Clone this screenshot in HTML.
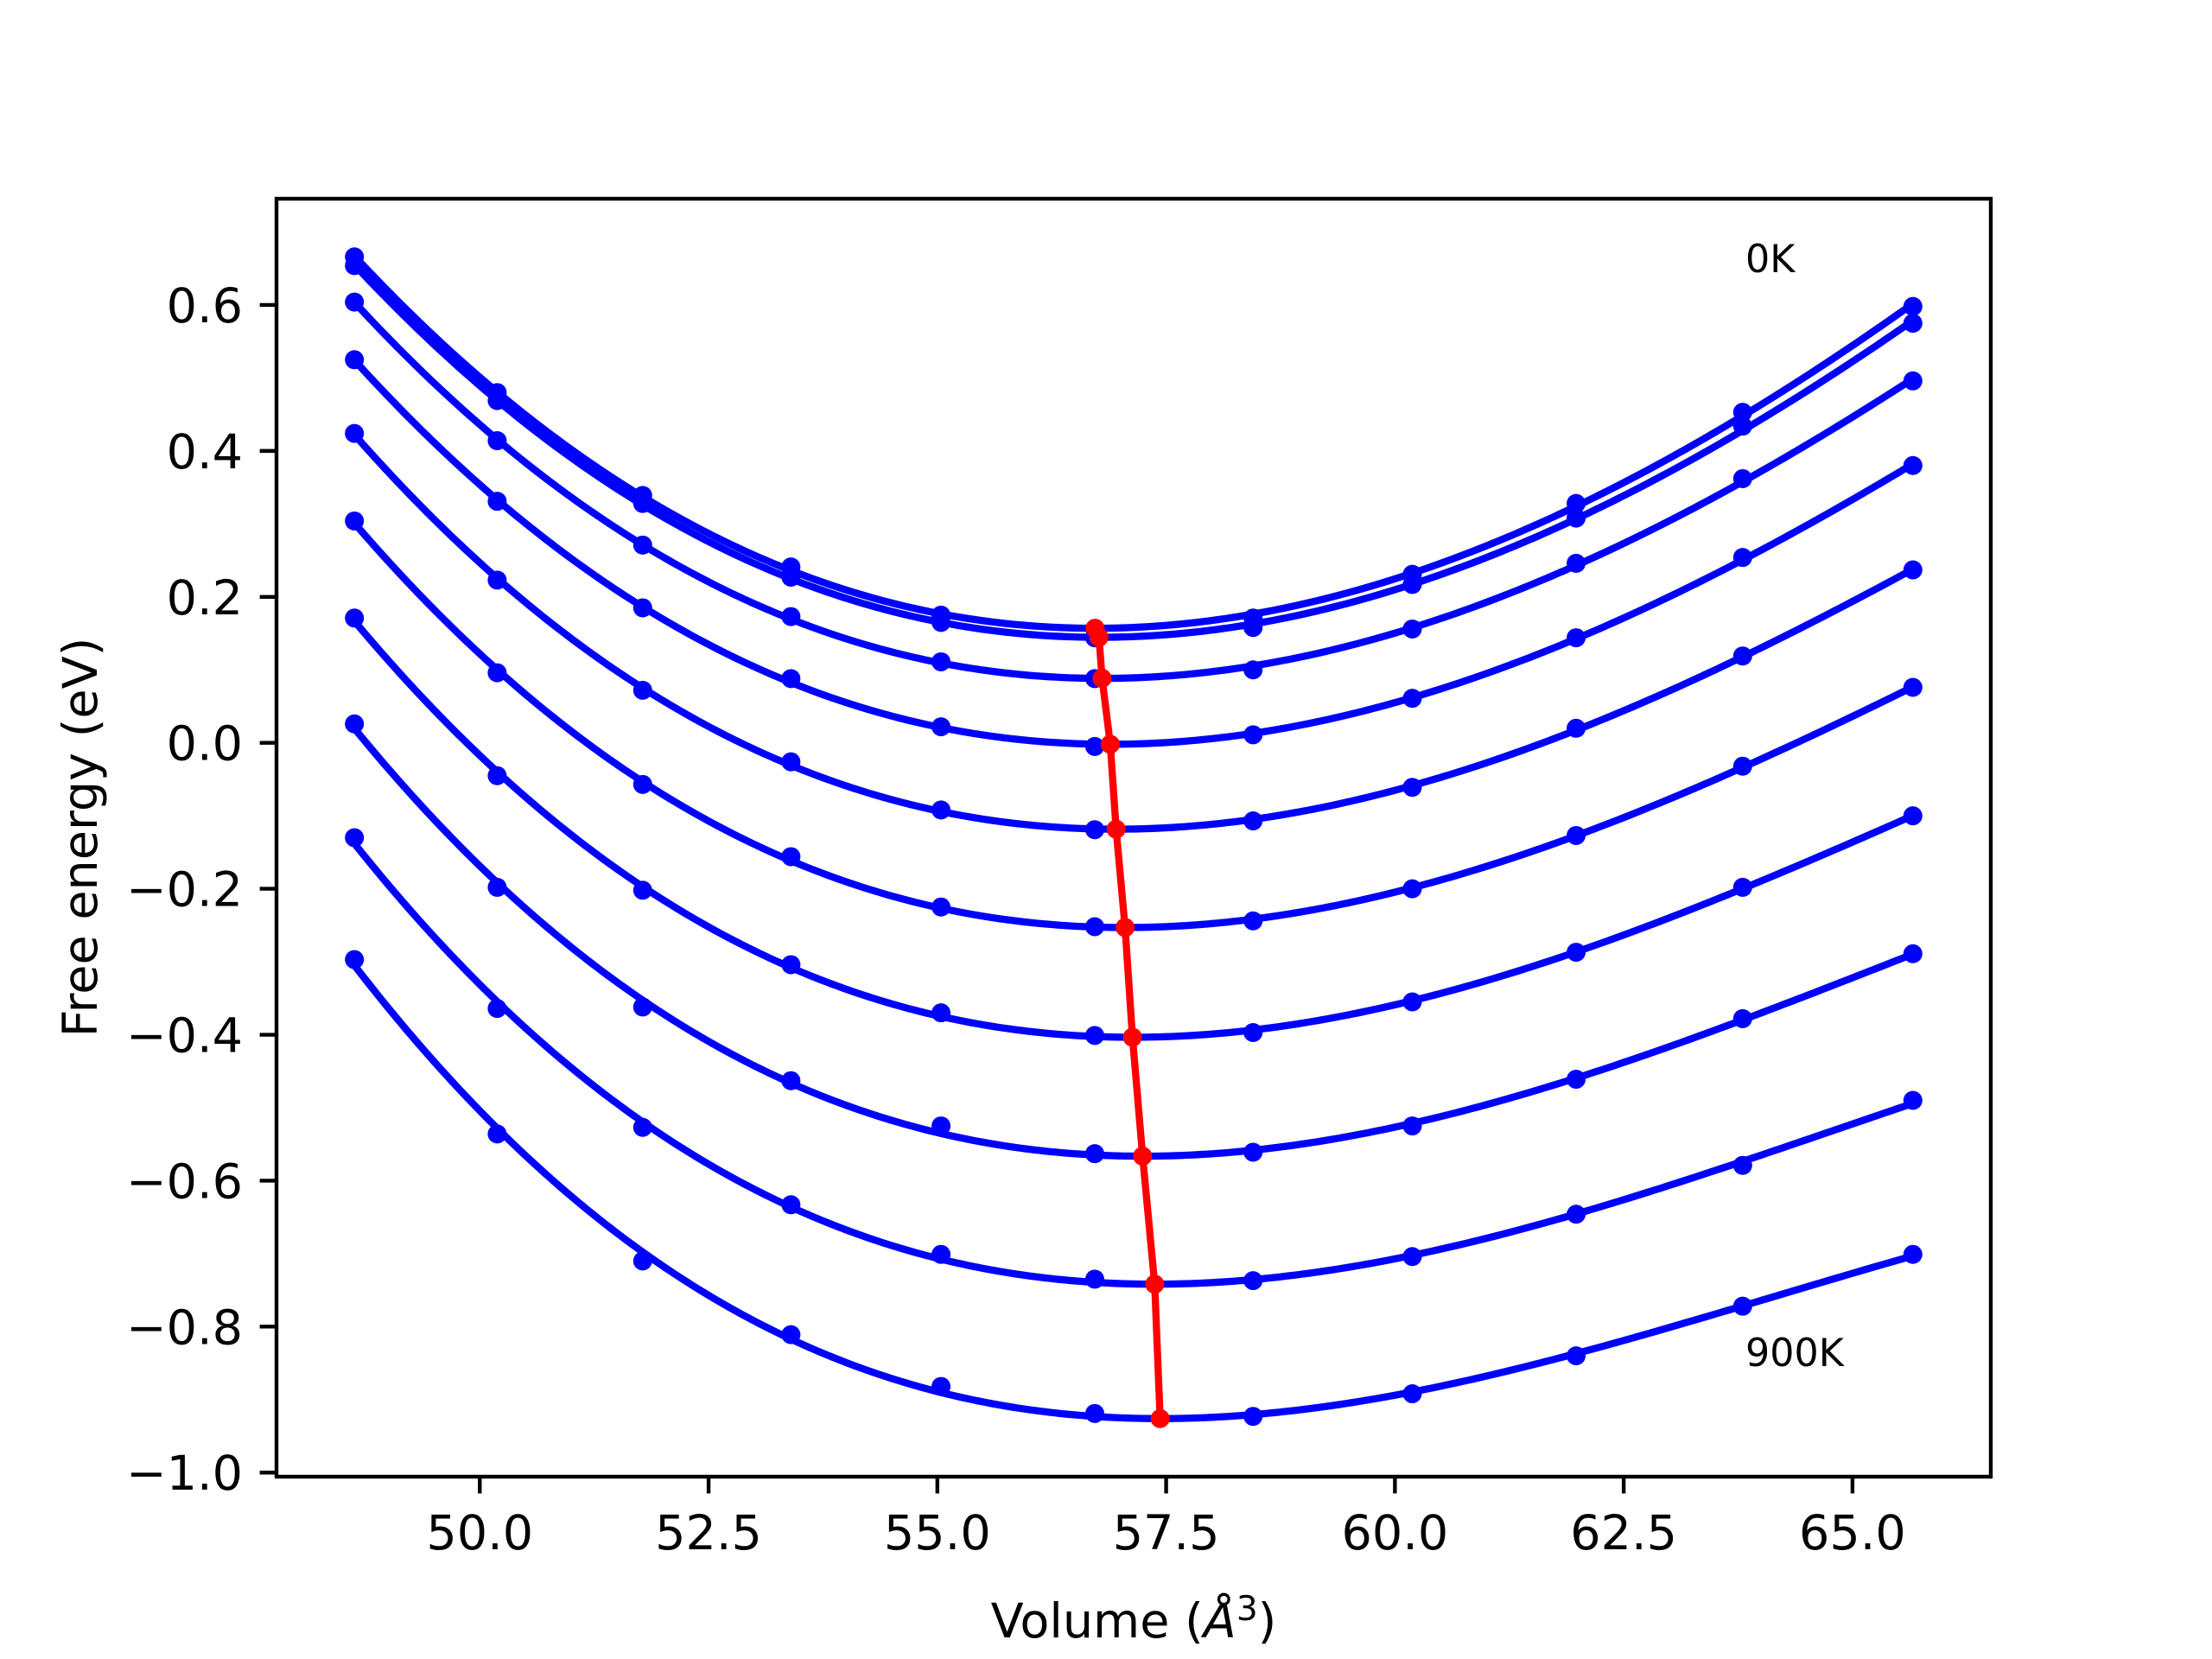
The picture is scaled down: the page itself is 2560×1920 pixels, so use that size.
<!DOCTYPE html>
<html><head><meta charset="utf-8"><style>
html,body{margin:0;padding:0;background:#fff;}
svg{display:block;font-family:"DejaVu Sans","Liberation Sans",sans-serif;}
</style></head><body>
<svg id="chart" width="2560" height="1920" viewBox="0 0 2560 1920" xmlns="http://www.w3.org/2000/svg">
<rect width="2560" height="1920" fill="#fff"/>
<g id="plot"></g>
<g id="axes"></g>
<text x="2020" y="315" font-size="44.4">0K</text>
<text x="2020" y="1581" font-size="44.4">900K</text>
<text x="1312" y="1895" font-size="55.6" text-anchor="middle">Volume (<tspan font-style="italic">Å</tspan><tspan font-size="39" dy="-20">3</tspan><tspan dy="20">)</tspan></text>
<text transform="translate(112,969) rotate(-90)" font-size="55.6" text-anchor="middle">Free energy (eV)</text>
</svg>
<script>
const volumes = [48.63, 50.19, 51.78, 53.40, 55.04, 56.72, 58.45, 60.19, 61.98, 63.80, 65.66];
const energies0 = [0.666, 0.480, 0.339, 0.241, 0.175, 0.156, 0.171, 0.231, 0.328, 0.453, 0.598];
const energies1 = [0.654, 0.469, 0.328, 0.227, 0.165, 0.144, 0.158, 0.217, 0.308, 0.434, 0.575];
const energies2 = [0.604, 0.414, 0.271, 0.173, 0.111, 0.088, 0.100, 0.156, 0.246, 0.362, 0.496];
const energies3 = [0.525, 0.331, 0.185, 0.088, 0.022, -0.005, 0.011, 0.061, 0.144, 0.254, 0.380];
const energies4 = [0.424, 0.223, 0.072, -0.026, -0.092, -0.119, -0.107, -0.061, 0.020, 0.119, 0.237];
const energies5 = [0.304, 0.096, -0.057, -0.156, -0.225, -0.252, -0.244, -0.200, -0.127, -0.032, 0.076];
const energies6 = [0.171, -0.045, -0.202, -0.304, -0.370, -0.401, -0.397, -0.355, -0.287, -0.198, -0.100];
const energies7 = [0.026, -0.198, -0.362, -0.463, -0.525, -0.563, -0.561, -0.525, -0.461, -0.378, -0.289];
const energies8 = [-0.130, -0.364, -0.527, -0.633, -0.701, -0.735, -0.737, -0.704, -0.646, -0.579, -0.490];
const energies9 = [-0.297, -0.536, -0.710, -0.811, -0.882, -0.919, -0.923, -0.892, -0.840, -0.772, -0.701];
const xTicks = [50.0, 52.5, 55.0, 57.5, 60.0, 62.5, 65.0];
const yTicks = [-1.0, -0.8, -0.6, -0.4, -0.2, 0.0, 0.2, 0.4, 0.6];

const series = [energies0, energies1, energies2, energies3, energies4, energies5, energies6, energies7, energies8, energies9];
const NS = "http://www.w3.org/2000/svg";
const L = 320, R = 2304, T = 230, B = 1709;

// cubic least-squares fit
function fit(xs, ys) {
  const xm = (xs[0] + xs[xs.length - 1]) / 2;
  const n = 4, A = [], b = [0, 0, 0, 0];
  for (let i = 0; i < n; i++) A.push([0, 0, 0, 0]);
  xs.forEach((x, k) => {
    const t = x - xm, p = [1, t, t * t, t * t * t];
    for (let i = 0; i < n; i++) { b[i] += p[i] * ys[k]; for (let j = 0; j < n; j++) A[i][j] += p[i] * p[j]; }
  });
  for (let i = 0; i < n; i++) {
    let m = i; for (let r = i + 1; r < n; r++) if (Math.abs(A[r][i]) > Math.abs(A[m][i])) m = r;
    [A[i], A[m]] = [A[m], A[i]]; [b[i], b[m]] = [b[m], b[i]];
    for (let r = i + 1; r < n; r++) { const f = A[r][i] / A[i][i]; for (let c = i; c < n; c++) A[r][c] -= f * A[i][c]; b[r] -= f * b[i]; }
  }
  const c = [0, 0, 0, 0];
  for (let i = n - 1; i >= 0; i--) { let s = b[i]; for (let j = i + 1; j < n; j++) s -= A[i][j] * c[j]; c[i] = s / A[i][i]; }
  return x => { const t = x - xm; return c[0] + c[1] * t + c[2] * t * t + c[3] * t * t * t; };
}
const fits = series.map(s => fit(volumes, s));
const minima = fits.map(f => {
  let bx = volumes[0], bv = f(bx);
  for (let i = 0; i <= 4000; i++) { const x = volumes[0] + (volumes[volumes.length - 1] - volumes[0]) * i / 4000; const v = f(x); if (v < bv) { bv = v; bx = x; } }
  return [bx, bv];
});

const xmin0 = Math.min(...volumes), xmax0 = Math.max(...volumes);
const allY = [].concat(...series);
const ymin0 = Math.min(...allY, ...minima.map(m => m[1])), ymax0 = Math.max(...allY);
const xpad = (xmax0 - xmin0) * 0.05, ypad = (ymax0 - ymin0) * 0.05;
const xmin = xmin0 - xpad, xmax = xmax0 + xpad, ymin = ymin0 - ypad, ymax = ymax0 + ypad;
const X = v => L + (v - xmin) / (xmax - xmin) * (R - L);
const Y = v => T + (ymax - v) / (ymax - ymin) * (B - T);

const plot = document.getElementById('plot');
const axes = document.getElementById('axes');
function mk(tag, attrs, parent) { const e = document.createElementNS(NS, tag); for (const k in attrs) e.setAttribute(k, attrs[k]); parent.appendChild(e); return e; }

series.forEach((s, si) => {
  const f = fits[si];
  let d = '';
  for (let i = 0; i <= 300; i++) {
    const x = xmin0 + (xmax0 - xmin0) * i / 300;
    d += (i ? 'L' : 'M') + X(x).toFixed(2) + ',' + Y(f(x)).toFixed(2);
  }
  const p = mk('path', { d: d, fill: 'none', stroke: '#0000ff', 'stroke-width': 8.3, 'stroke-linejoin': 'round', 'stroke-linecap': 'square' }, plot);
  
  
  s.forEach((v, i) => {
    const c = mk('circle', { cx: X(volumes[i]), cy: Y(v), r: 11, fill: '#0000ff' }, plot);
    
    
  });
});
let rd = '';
minima.forEach((m, i) => { rd += (i ? 'L' : 'M') + X(m[0]).toFixed(2) + ',' + Y(m[1]).toFixed(2); });
const red = mk('path', { d: rd, fill: 'none', stroke: '#ff0000', 'stroke-width': 8.3, 'stroke-linejoin': 'round' }, plot);


minima.forEach(m => {
  const c = mk('circle', { cx: X(m[0]), cy: Y(m[1]), r: 11, fill: '#ff0000' }, plot);
  
  
});

const frame = mk('rect', { x: L, y: T, width: R - L, height: B - T, fill: 'none', stroke: '#000', 'stroke-width': 4.4 }, axes);


xTicks.forEach(t => {
  const x = X(t);
  const ln = mk('line', { x1: x, x2: x, y1: B, y2: B + 19.4, stroke: '#000', 'stroke-width': 4.4 }, axes);
  
  
  const tx = mk('text', { x: x, y: B + 84, 'font-size': 55.6, 'text-anchor': 'middle' }, axes);
  tx.textContent = t.toFixed(1);
  
  
});
yTicks.forEach(t => {
  const y = Y(t);
  const ln = mk('line', { x1: L - 19.4, x2: L, y1: y, y2: y, stroke: '#000', 'stroke-width': 4.4 }, axes);
  
  
  const tx = mk('text', { x: L - 39, y: y + 20, 'font-size': 55.6, 'text-anchor': 'end' }, axes);
  tx.textContent = (t < 0 ? '\u2212' : '') + Math.abs(t).toFixed(1);
  
  
});
</script>
</body></html>
